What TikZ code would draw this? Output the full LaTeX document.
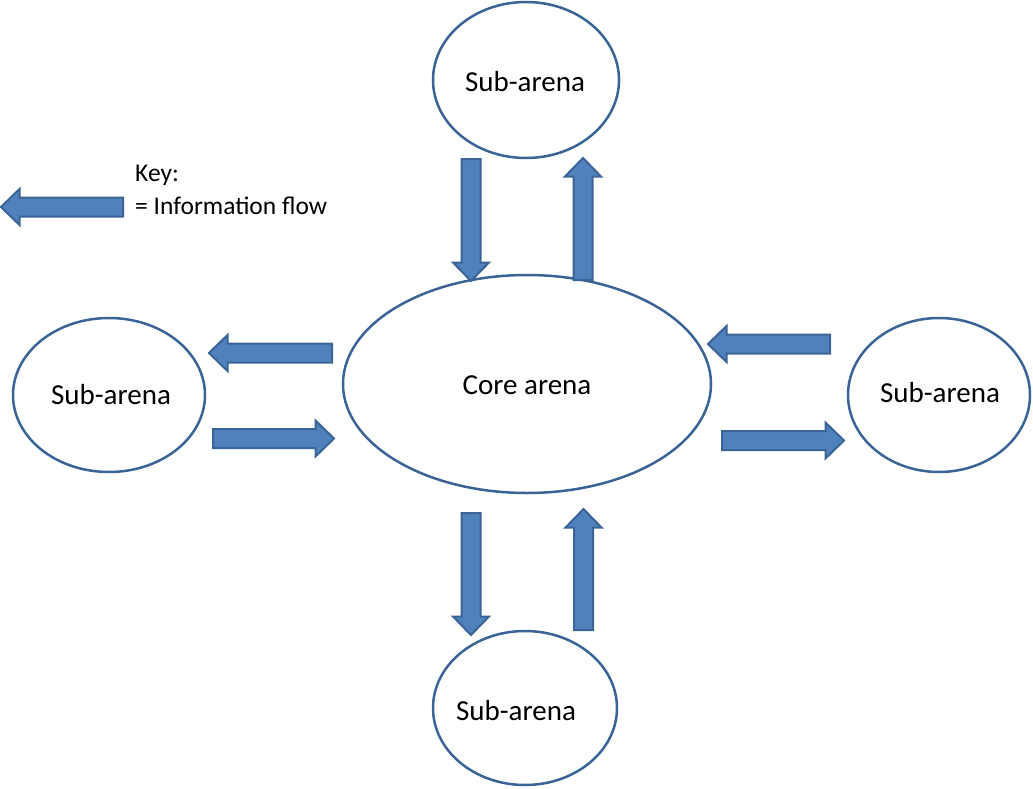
\documentclass[tikz,border=0pt]{standalone}
\usepackage{fontspec}
\setmainfont{Carlito}
\usetikzlibrary{calc,shapes.geometric}
\definecolor{fillblue}{HTML}{4F81BD}
\definecolor{edgeblue}{HTML}{3A6496}
\newcommand{\blockarrow}[2]{%
  \fill[fillblue,draw=edgeblue,line width=2pt,line join=miter]
    ($(#1)!9.5pt!90:(#2)$) --
    ($($(#2)!18.5pt!(#1)$)!9.5pt!90:(#2)$) --
    ($($(#2)!18.5pt!(#1)$)!18pt!90:(#2)$) --
    (#2) --
    ($($(#2)!18.5pt!(#1)$)!18pt!-90:(#2)$) --
    ($($(#2)!18.5pt!(#1)$)!9.5pt!-90:(#2)$) --
    ($(#1)!9.5pt!-90:(#2)$) -- cycle;}
\begin{document}
\begin{tikzpicture}[x=1pt,y=-1pt,
  arena/.style={ellipse,draw=edgeblue,line width=2.5pt,inner sep=0pt,fill=white},
  lbl/.style={font=\fontsize{29}{34}\selectfont,inner sep=0pt,text=black},
  keytext/.style={font=\fontsize{25.5}{31}\selectfont,inner sep=0pt,text=black,anchor=west,align=left}]
\useasboundingbox (0,0) rectangle (1033,789);
% arenas
\node[arena,minimum width=186pt,minimum height=156pt] (top) at (526,80) {};
\node[arena,minimum width=192pt,minimum height=154pt] (left) at (109,395) {};
\node[arena,minimum width=368pt,minimum height=218pt] (core) at (527,384) {};
\node[arena,minimum width=182pt,minimum height=154pt] (right) at (939,395) {};
\node[arena,minimum width=184pt,minimum height=154pt] (bottom) at (525,708) {};
% labels
\node[lbl] (ttop) at (525,82) {Sub-arena};
\node[lbl] (tleft) at (111,395) {Sub-arena};
\node[lbl] (tcore) at (527,385) {Core arena};
\node[lbl] (tright) at (940,393) {Sub-arena};
\node[lbl] (tbottom) at (516,711) {Sub-arena};
% key
\node[keytext] (k1) at (135,175) {Key:};
\node[keytext] (k2) at (135,206) {= Information flow};
% arrow end points
\coordinate (a1s) at (471,159); \coordinate (a1e) at (471,281);
\coordinate (a2s) at (583,280); \coordinate (a2e) at (583,158);
\coordinate (a3s) at (332,353); \coordinate (a3e) at (209,353);
\coordinate (a4s) at (213,438.5); \coordinate (a4e) at (334,438.5);
\coordinate (a5s) at (830,344); \coordinate (a5e) at (708,344);
\coordinate (a6s) at (722,440.5); \coordinate (a6e) at (844,440.5);
\coordinate (a7s) at (471,513); \coordinate (a7e) at (471,635);
\coordinate (a8s) at (583.5,630); \coordinate (a8e) at (583.5,509);
\coordinate (kas) at (123,207); \coordinate (kae) at (1,207);
\blockarrow{a1s}{a1e}
\blockarrow{a2s}{a2e}
\blockarrow{a3s}{a3e}
\blockarrow{a4s}{a4e}
\blockarrow{a5s}{a5e}
\blockarrow{a6s}{a6e}
\blockarrow{a7s}{a7e}
\blockarrow{a8s}{a8e}
\blockarrow{kas}{kae}
\end{tikzpicture}
\end{document}
